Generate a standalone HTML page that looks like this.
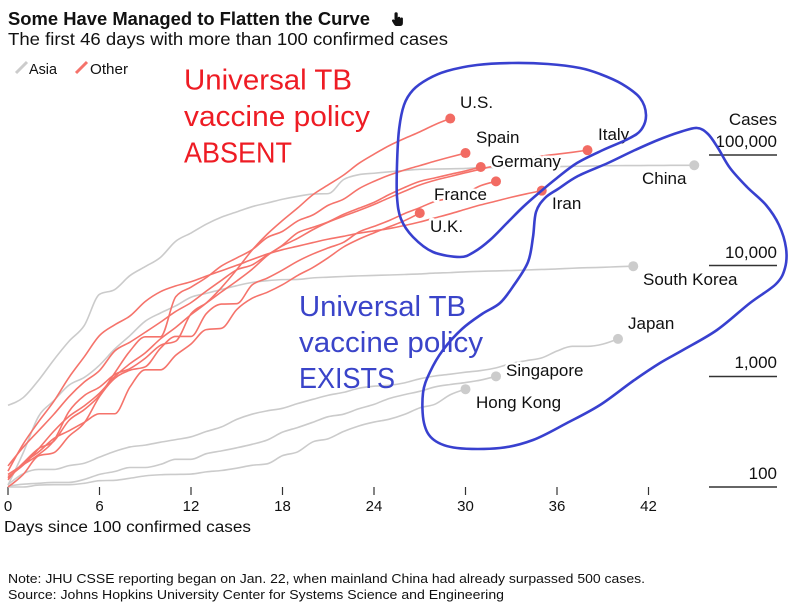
<!DOCTYPE html>
<html>
<head>
<meta charset="utf-8">
<style>
html,body{margin:0;padding:0;background:#fff;}
svg{display:block;}
.lbl{font-size:17px;fill:#111;stroke:#fff;stroke-width:5px;paint-order:stroke;stroke-linejoin:round;}
.ax{font-size:17px;fill:#111;}
.tk{font-size:15px;fill:#111;}
</style>
</head>
<body>
<svg id="c" xmlns="http://www.w3.org/2000/svg" width="800" height="606" viewBox="0 0 800 606" font-family="'Liberation Sans', Arial, sans-serif">
  <rect width="800" height="606" fill="#fff"/>
  <!-- Title -->
  <text x="8" y="25" font-size="18" font-weight="bold" fill="#111" textLength="362" lengthAdjust="spacingAndGlyphs">Some Have Managed to Flatten the Curve</text>
  <path d="M394.5 20 V13.8 a1.6 1.6 0 0 1 3.2 0 V18 a1.3 1.3 0 0 1 2.6 0 v0.6 a1.3 1.3 0 0 1 2.6 0.4 V23 q0 3 -3 3 h-3.2 q-1.8 0 -2.8 -1.8 l-1.8 -3 a1.2 1.2 0 0 1 2 -1.3 Z" fill="#111"/>
  <text x="8" y="45" font-size="17.5" fill="#111" textLength="440" lengthAdjust="spacingAndGlyphs">The first 46 days with more than 100 confirmed cases</text>

  <!-- Legend -->
  <line x1="16" y1="73" x2="27" y2="62" stroke="#cccccc" stroke-width="3"/>
  <text x="29" y="74" font-size="15" fill="#111" textLength="28" lengthAdjust="spacingAndGlyphs">Asia</text>
  <line x1="76" y1="73" x2="87" y2="62" stroke="#f5736b" stroke-width="3"/>
  <text x="90" y="74" font-size="15" fill="#111" textLength="38" lengthAdjust="spacingAndGlyphs">Other</text>

  <!-- Red annotation -->
  <g font-size="29" fill="#ee1c24">
    <text x="184" y="89.5" textLength="168" lengthAdjust="spacingAndGlyphs">Universal TB</text>
    <text x="184" y="126" textLength="186" lengthAdjust="spacingAndGlyphs">vaccine policy</text>
    <text x="184" y="162.3" textLength="108" lengthAdjust="spacingAndGlyphs">ABSENT</text>
  </g>

  <!-- Right axis -->
  <g class="ax" text-anchor="end">
    <text x="777" y="125">Cases</text>
    <text x="777" y="147">100,000</text>
    <text x="777" y="258">10,000</text>
    <text x="777" y="368">1,000</text>
    <text x="777" y="479">100</text>
  </g>
  <g stroke="#333" stroke-width="1.4">
    <line x1="709" y1="155" x2="777" y2="155"/>
    <line x1="709" y1="265.5" x2="777" y2="265.5"/>
    <line x1="709" y1="376.5" x2="777" y2="376.5"/>
    <line x1="709" y1="487" x2="777" y2="487"/>
  </g>

  <!-- X axis -->
  <g id="ticks" stroke="#333" stroke-width="1.2"></g>
  <g id="ticklabels" class="tk" text-anchor="middle"></g>
  <text x="4" y="532" font-size="15.5" fill="#111" textLength="247" lengthAdjust="spacingAndGlyphs">Days since 100 confirmed cases</text>

  <!-- Notes -->
  <text x="8" y="583" font-size="13" fill="#111" textLength="637" lengthAdjust="spacingAndGlyphs">Note: JHU CSSE reporting began on Jan. 22, when mainland China had already surpassed 500 cases.</text>
  <text x="8" y="599" font-size="13" fill="#111" textLength="496" lengthAdjust="spacingAndGlyphs">Source: Johns Hopkins University Center for Systems Science and Engineering</text>

  <!-- Series -->
  <g id="gray" fill="none" stroke="#cbcbcb" stroke-width="1.6"></g>
  <g id="red" fill="none" stroke="#f5736b" stroke-width="1.6"></g>
  <g id="dots"></g>

  <!-- Country labels -->
  <g>
    <text class="lbl" x="460" y="108">U.S.</text>
    <text class="lbl" x="476" y="143">Spain</text>
    <text class="lbl" x="491" y="167">Germany</text>
    <text class="lbl" x="434" y="200">France</text>
    <text class="lbl" x="430" y="232">U.K.</text>
    <text class="lbl" x="552" y="209">Iran</text>
    <text class="lbl" x="598" y="140">Italy</text>
    <text class="lbl" x="642" y="184">China</text>
    <text class="lbl" x="643" y="285">South Korea</text>
    <text class="lbl" x="628" y="329">Japan</text>
    <text class="lbl" x="506" y="376">Singapore</text>
    <text class="lbl" x="476" y="408">Hong Kong</text>
  </g>

  <!-- Blue annotation -->
  <g font-size="29" fill="#3a44c9">
    <text x="299" y="316" textLength="167" lengthAdjust="spacingAndGlyphs">Universal TB</text>
    <text x="299" y="352" textLength="184" lengthAdjust="spacingAndGlyphs">vaccine policy</text>
    <text x="299" y="388" textLength="96" lengthAdjust="spacingAndGlyphs">EXISTS</text>
  </g>
  <g id="blue" fill="none" stroke="#3840cf" stroke-width="2.6" stroke-linejoin="round" stroke-linecap="round"></g>
</svg>
<script>
(function(){
var NS='http://www.w3.org/2000/svg';
function X(d){return 8+15.25*d;}
function Y(v){return 487-110.67*Math.log10(v/100);}
function el(tag,attrs,parent){var e=document.createElementNS(NS,tag);for(var k in attrs)e.setAttribute(k,attrs[k]);parent.appendChild(e);return e;}
function sgn(x){return x<0?-1:1;}
function slope3(p0,p1,p2){
  var h0=p1[0]-p0[0],h1=p2[0]-p1[0];
  var s0=(p1[1]-p0[1])/h0,s1=(p2[1]-p1[1])/h1;
  var p=(s0*h1+s1*h0)/(h0+h1);
  return (sgn(s0)+sgn(s1))*Math.min(Math.abs(s0),Math.abs(s1),0.5*Math.abs(p))||0;
}
function f(n){return n.toFixed(2);}
function mono(P){
  var n=P.length,t=new Array(n),i;
  for(i=1;i<n-1;i++)t[i]=slope3(P[i-1],P[i],P[i+1]);
  t[0]=(3*(P[1][1]-P[0][1])/(P[1][0]-P[0][0])-t[1])/2;
  t[n-1]=(3*(P[n-1][1]-P[n-2][1])/(P[n-1][0]-P[n-2][0])-t[n-2])/2;
  var d='M'+f(P[0][0])+','+f(P[0][1]);
  for(i=0;i<n-1;i++){
    var dx=(P[i+1][0]-P[i][0])/3;
    d+='C'+f(P[i][0]+dx)+','+f(P[i][1]+dx*t[i])+','+f(P[i+1][0]-dx)+','+f(P[i+1][1]-dx*t[i+1])+','+f(P[i+1][0])+','+f(P[i+1][1]);
  }
  return d;
}
function closedCR(p){
  var n=p.length,d='M'+p[0][0]+','+p[0][1];
  for(var i=0;i<n;i++){
    var p0=p[(i-1+n)%n],p1=p[i],p2=p[(i+1)%n],p3=p[(i+2)%n];
    d+='C'+f(p1[0]+(p2[0]-p0[0])/6)+','+f(p1[1]+(p2[1]-p0[1])/6)+','+f(p2[0]-(p3[0]-p1[0])/6)+','+f(p2[1]-(p3[1]-p1[1])/6)+','+p2[0]+','+p2[1];
  }
  return d+'Z';
}
var gray={
 china:[548,643,920,1406,2075,2877,5509,6087,8141,9802,11891,16630,19716,23707,27440,30587,34110,36814,39829,42354,44386,44759,59895,66358,68413,70513,72434,74211,74619,75077,75550,77001,77022,77241,77754,78166,78600,78928,79356,79932,80136,80261,80386,80537,80690,80770],
 korea:[104,204,433,602,833,977,1261,1766,2337,3150,3736,4335,5186,5621,6088,6593,7041,7314,7478,7513,7755,7869,7979,8086,8162,8236,8320,8413,8565,8652,8799,8897,8961,9037,9137,9241,9332,9478,9583,9661,9786,9887],
 japan:[105,132,144,144,156,164,186,210,230,239,254,268,284,317,349,408,455,488,514,568,620,675,716,780,814,829,873,950,1007,1046,1089,1128,1193,1307,1387,1468,1693,1866,1866,1953,2178],
 sing:[102,106,108,110,110,117,130,138,150,150,160,178,178,200,212,226,243,266,313,345,385,432,455,509,558,631,683,732,802,844,879,926,1000],
 hk:[100,100,104,105,105,108,114,115,120,126,129,130,131,137,141,148,157,162,192,208,256,273,317,356,386,410,453,519,560,682,765]
};
var red={
 italy:[155,229,322,453,655,888,1128,1694,2036,2502,3089,3858,4636,5883,7375,9172,10149,12462,15113,17660,21157,24747,27980,31506,35713,41035,47021,53578,59138,63927,69176,74386,80589,86498,92472,97689,101739,105792,110574],
 us:[124,158,221,319,435,541,704,994,1301,1630,2183,2770,3613,4596,6344,9197,13779,19273,25600,33276,43847,53740,65778,83836,101657,121478,140886,161807,188172,213372],
 spain:[120,165,222,259,400,500,673,1073,1695,2277,2277,5232,6391,7798,9942,11748,13910,17963,20410,25374,28768,35136,39885,49515,57786,65719,73235,80110,87956,95923,104118],
 germany:[130,159,196,262,482,670,799,1040,1176,1457,1908,2078,3675,4585,5795,7272,9257,12327,15320,19848,22213,24873,29056,32986,37323,43938,50871,57695,62095,66885,71808,77872],
 france:[100,130,191,204,288,380,656,959,1136,1219,1794,2293,2293,3681,4496,4532,6683,7715,9124,10970,12758,14463,16243,20123,22622,25600,29551,33402,38105,40708,45170,52827,57749],
 iran:[139,245,388,593,978,1501,2336,2922,3513,4747,5823,6566,7161,8042,9000,10075,11364,12729,13938,14991,16169,17361,18407,19644,20610,21638,23049,24811,27017,29406,32332,35408,38309,41495,44605,47593],
 uk:[116,164,207,274,322,384,459,459,802,1144,1145,1551,1960,2642,2716,4014,5067,5745,6726,8164,9640,11812,14745,17312,19780,22453,25481,29865]
};
function pts(a){return a.map(function(v,i){return [X(i),Y(v)];});}
var gG=document.getElementById('gray'),gR=document.getElementById('red'),gD=document.getElementById('dots');
var k,P;
for(k in gray){P=pts(gray[k]);el('path',{d:mono(P)},gG);el('circle',{cx:f(P[P.length-1][0]),cy:f(P[P.length-1][1]),r:5,fill:'#cccccc'},gD);}
for(k in red){P=pts(red[k]);el('path',{d:mono(P)},gR);el('circle',{cx:f(P[P.length-1][0]),cy:f(P[P.length-1][1]),r:5,fill:'#f26b63'},gD);}
// ticks
var gT=document.getElementById('ticks'),gTL=document.getElementById('ticklabels');
for(var d=0;d<=42;d+=6){
  var x=X(d);
  el('line',{x1:f(x),x2:f(x),y1:487,y2:495},gT);
  var t=el('text',{x:f(x),y:511},gTL);t.textContent=String(d);
}
// blue loops
var gB=document.getElementById('blue');
var loop1=[[477,65],[447,71],[428,79],[413,90],[404,105],[399,130],[397,165],[397,197],[401,219],[413,237],[433,252],[460,257],[474,252],[490,240],[507,223],[523,207],[540,192],[557,178],[577,163],[603,150],[628,139],[641,130],[646,115],[640,98],[622,84],[600,74],[580,68],[548,64],[512,63]];
var loop2=[[697,128],[708,134],[718,148],[730,168],[747,187],[766,205],[779,225],[786,248],[785,268],[776,284],[750,303],[717,330],[683,350],[660,363],[633,381],[600,405],[567,423],[533,440],[500,448],[457,448],[434,440],[424,423],[423,393],[430,372],[443,350],[462,329],[482,314],[500,303],[514,285],[528,262],[533,237],[536,212],[545,198],[558,189],[578,176],[608,163],[633,151],[658,140],[680,132]];
el('path',{d:closedCR(loop1)},gB);
el('path',{d:closedCR(loop2)},gB);
})();
</script>
</body>
</html>
